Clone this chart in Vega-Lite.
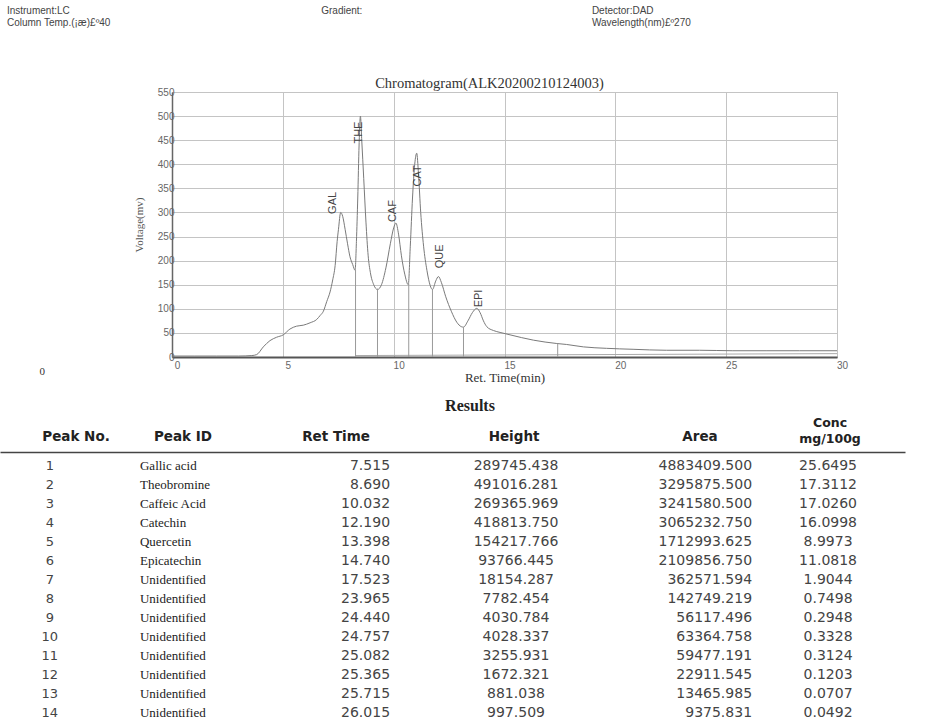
{
  "$schema": "https://vega.github.io/schema/vega-lite/v6.json",
  "width": 665,
  "height": 265,
  "autosize": {"type": "none"},
  "padding": {"left": 172, "top": 92, "right": 106, "bottom": 363},
  "background": "white",
  "config": {"view": {"stroke": "#888", "strokeWidth": 1}, "font": "Liberation Sans"},
  "datasets": {
    "curve": [
      {"t": 0, "v": 2}, {"t": 1, "v": 2}, {"t": 2, "v": 2}, {"t": 3, "v": 2}, {"t": 3.6, "v": 3},
      {"t": 3.82, "v": 5}, {"t": 4.12, "v": 21}, {"t": 4.42, "v": 34}, {"t": 4.72, "v": 41},
      {"t": 5.02, "v": 46}, {"t": 5.32, "v": 58}, {"t": 5.62, "v": 64}, {"t": 5.92, "v": 66},
      {"t": 6.23, "v": 71}, {"t": 6.53, "v": 78}, {"t": 6.68, "v": 86}, {"t": 6.83, "v": 95},
      {"t": 6.98, "v": 115}, {"t": 7.13, "v": 135}, {"t": 7.25, "v": 160}, {"t": 7.36, "v": 190},
      {"t": 7.45, "v": 240}, {"t": 7.51, "v": 265}, {"t": 7.61, "v": 300}, {"t": 7.7, "v": 292},
      {"t": 7.81, "v": 265}, {"t": 7.92, "v": 235}, {"t": 8.03, "v": 208}, {"t": 8.15, "v": 192},
      {"t": 8.26, "v": 180}, {"t": 8.32, "v": 240}, {"t": 8.38, "v": 330}, {"t": 8.44, "v": 440},
      {"t": 8.5, "v": 500}, {"t": 8.56, "v": 450}, {"t": 8.65, "v": 370}, {"t": 8.75, "v": 280},
      {"t": 8.85, "v": 210}, {"t": 8.95, "v": 175}, {"t": 9.1, "v": 150}, {"t": 9.27, "v": 140},
      {"t": 9.45, "v": 150}, {"t": 9.65, "v": 185}, {"t": 9.85, "v": 235}, {"t": 10.0, "v": 268},
      {"t": 10.1, "v": 278}, {"t": 10.22, "v": 255}, {"t": 10.35, "v": 210}, {"t": 10.5, "v": 172},
      {"t": 10.66, "v": 150}, {"t": 10.75, "v": 230}, {"t": 10.85, "v": 330}, {"t": 10.95, "v": 400},
      {"t": 11.04, "v": 423}, {"t": 11.12, "v": 380}, {"t": 11.22, "v": 300}, {"t": 11.35, "v": 230},
      {"t": 11.5, "v": 180}, {"t": 11.65, "v": 148}, {"t": 11.75, "v": 140}, {"t": 11.9, "v": 158},
      {"t": 12.02, "v": 167}, {"t": 12.15, "v": 155}, {"t": 12.35, "v": 125}, {"t": 12.6, "v": 95},
      {"t": 12.85, "v": 72}, {"t": 13.05, "v": 63}, {"t": 13.15, "v": 62}, {"t": 13.35, "v": 75},
      {"t": 13.55, "v": 92}, {"t": 13.75, "v": 101}, {"t": 13.9, "v": 92}, {"t": 14.05, "v": 75},
      {"t": 14.2, "v": 63}, {"t": 14.5, "v": 55}, {"t": 14.8, "v": 51}, {"t": 15.25, "v": 46},
      {"t": 16.3, "v": 35}, {"t": 17.36, "v": 28}, {"t": 17.8, "v": 26}, {"t": 18.56, "v": 21},
      {"t": 19.6, "v": 18}, {"t": 20.8, "v": 16}, {"t": 22.3, "v": 14}, {"t": 23.8, "v": 14},
      {"t": 25.3, "v": 13}, {"t": 26.8, "v": 13}, {"t": 28.3, "v": 13}, {"t": 30, "v": 13}
    ],
    "baseline": [{"t": 8.28, "v": 3}, {"t": 30, "v": 7}],
    "drops": [
      {"t": 8.28, "v": 181}, {"t": 9.27, "v": 142}, {"t": 10.68, "v": 152},
      {"t": 11.75, "v": 140}, {"t": 13.15, "v": 62}, {"t": 17.4, "v": 28}
    ],
    "peaks": [
      {"t": 7.27, "v": 297, "label": "GAL"}, {"t": 8.44, "v": 443, "label": "THE"},
      {"t": 9.95, "v": 280, "label": "CAF"}, {"t": 11.1, "v": 354, "label": "CAT"},
      {"t": 12.1, "v": 184, "label": "QUE"}, {"t": 13.85, "v": 103, "label": "EPI"}
    ],
    "stray": [{"t": -5.85, "v": -31, "label": "0"}],
    "meta": [
      {"col": "left", "line": "1", "text": "Instrument:LC"},
      {"col": "left", "line": "2", "text": "Column Temp.(¡æ)£º40"},
      {"col": "mid", "line": "1", "text": "Gradient:"},
      {"col": "right", "line": "1", "text": "Detector:DAD"},
      {"col": "right", "line": "2", "text": "Wavelength(nm)£º270"}
    ],
    "results": [
      {"no": 1, "id": "Gallic acid", "ret": 7.515, "height": 289745.438, "area": 4883409.5, "conc": 25.6495},
      {"no": 2, "id": "Theobromine", "ret": 8.69, "height": 491016.281, "area": 3295875.5, "conc": 17.3112},
      {"no": 3, "id": "Caffeic Acid", "ret": 10.032, "height": 269365.969, "area": 3241580.5, "conc": 17.026},
      {"no": 4, "id": "Catechin", "ret": 12.19, "height": 418813.75, "area": 3065232.75, "conc": 16.0998},
      {"no": 5, "id": "Quercetin", "ret": 13.398, "height": 154217.766, "area": 1712993.625, "conc": 8.9973},
      {"no": 6, "id": "Epicatechin", "ret": 14.74, "height": 93766.445, "area": 2109856.75, "conc": 11.0818},
      {"no": 7, "id": "Unidentified", "ret": 17.523, "height": 18154.287, "area": 362571.594, "conc": 1.9044},
      {"no": 8, "id": "Unidentified", "ret": 23.965, "height": 7782.454, "area": 142749.219, "conc": 0.7498},
      {"no": 9, "id": "Unidentified", "ret": 24.44, "height": 4030.784, "area": 56117.496, "conc": 0.2948},
      {"no": 10, "id": "Unidentified", "ret": 24.757, "height": 4028.337, "area": 63364.758, "conc": 0.3328},
      {"no": 11, "id": "Unidentified", "ret": 25.082, "height": 3255.931, "area": 59477.191, "conc": 0.3124},
      {"no": 12, "id": "Unidentified", "ret": 25.365, "height": 1672.321, "area": 22911.545, "conc": 0.1203},
      {"no": 13, "id": "Unidentified", "ret": 25.715, "height": 881.038, "area": 13465.985, "conc": 0.0707},
      {"no": 14, "id": "Unidentified", "ret": 26.015, "height": 997.509, "area": 9375.831, "conc": 0.0492}
    ],
    "heads": [
      {"col": "no", "label": "Peak No."},
      {"col": "id", "label": "Peak ID"},
      {"col": "ret", "label": "Ret Time"},
      {"col": "height", "label": "Height"},
      {"col": "area", "label": "Area"},
      {"col": "conc", "label": "Conc\nmg/100g"},
      {"col": "height", "label": "Results"}
    ]
  },
  "layer": [
    {
      "layer": [
        {
          "data": {"name": "curve"},
          "mark": {"type": "line", "color": "#7a7a7a", "strokeWidth": 1, "interpolate": "monotone"},
          "encoding": {
            "x": {"field": "t", "type": "quantitative", "scale": {"domain": [0, 30], "nice": false, "zero": false},
              "axis": {"orient": "bottom", "values": [0, 5, 10, 15, 20, 25, 30], "title": "Ret. Time(min)", "grid": true, "gridColor": "#c4c4c4", "gridWidth": 1,
                "domainColor": "#555", "domainWidth": 2, "ticks": false, "labelFont": "Liberation Sans", "labelFontSize": 10,
                "labelColor": "#666", "labelOffset": 5, "labelPadding": 3, "labelFlush": false, "labelOverlap": false,
                "titleFont": "Liberation Serif", "titleFontSize": 13, "titleFontWeight": "normal", "titleColor": "#333", "titlePadding": 1}},
            "y": {"field": "v", "type": "quantitative", "scale": {"domain": [0, 550], "nice": false},
              "axis": {"orient": "left", "values": [0, 50, 100, 150, 200, 250, 300, 350, 400, 450, 500, 550], "title": "Voltage(mv)", "grid": true,
                "gridColor": "#c4c4c4", "gridWidth": 1, "domainColor": "#666", "domainWidth": 1.5, "ticks": false,
                "labelFont": "Liberation Sans", "labelFontSize": 10, "labelColor": "#666", "labelPadding": -2, "labelFlush": false,
                "labelOverlap": false, "titleFont": "Liberation Serif", "titleFontSize": 11, "titleFontWeight": "normal",
                "titleColor": "#555", "titlePadding": 13}}
          }
        },
        {
          "data": {"name": "baseline"},
          "mark": {"type": "line", "color": "#aaa", "strokeWidth": 1},
          "encoding": {"x": {"field": "t", "type": "quantitative", "axis": null}, "y": {"field": "v", "type": "quantitative", "axis": null}}
        },
        {
          "data": {"name": "drops"},
          "mark": {"type": "rule", "color": "#999", "strokeWidth": 1},
          "encoding": {"x": {"field": "t", "type": "quantitative", "axis": null}, "y": {"field": "v", "type": "quantitative", "axis": null}, "y2": {"datum": 0}}
        },
        {
          "data": {"name": "peaks"},
          "mark": {"type": "text", "angle": 270, "align": "left", "baseline": "middle", "font": "Liberation Sans Narrow, Liberation Sans", "fontSize": 11, "color": "#444"},
          "encoding": {
            "x": {"field": "t", "type": "quantitative",
              "axis": {"orient": "top", "title": "Chromatogram(ALK20200210124003)", "labels": false, "ticks": false, "domain": false, "grid": false,
                "titleFont": "Liberation Serif", "titleFontSize": 14.5, "titleFontWeight": "normal", "titleColor": "#333", "titlePadding": 2, "titleX": 317}},
            "y": {"field": "v", "type": "quantitative", "axis": null},
            "text": {"field": "label"}
          }
        },
        {
          "data": {"name": "stray"},
          "mark": {"type": "text", "align": "center", "baseline": "middle", "font": "Liberation Serif", "fontSize": 11, "color": "#333"},
          "encoding": {"x": {"field": "t", "type": "quantitative", "axis": null}, "y": {"field": "v", "type": "quantitative", "axis": null}, "text": {"field": "label"}}
        }
      ],
      "resolve": {"axis": {"x": "independent", "y": "independent"}}
    },
    {
      "data": {"name": "meta"},
      "layer": [
        {
          "transform": [{"filter": "datum.col !== 'right'"}],
          "mark": {"type": "text", "align": "left", "baseline": "middle", "font": "Liberation Sans", "fontSize": 10, "color": "#444"},
          "encoding": {
            "x": {"field": "col", "type": "nominal", "bandPosition": 0.022, "scale": {"type": "band", "domain": ["left", "mid", "right"], "range": [-172, 771], "paddingInner": 0, "paddingOuter": 0}, "axis": null},
            "y": {"field": "line", "type": "nominal", "bandPosition": 0.5, "scale": {"type": "band", "domain": ["1", "2"], "range": [-87, -63], "paddingInner": 0, "paddingOuter": 0}, "axis": null},
            "text": {"field": "text"}
          }
        },
        {
          "transform": [{"filter": "datum.col === 'right'"}],
          "mark": {"type": "text", "align": "left", "baseline": "middle", "font": "Liberation Sans", "fontSize": 10, "color": "#444"},
          "encoding": {
            "x": {"field": "col", "type": "nominal", "bandPosition": -0.117, "axis": null},
            "y": {"field": "line", "type": "nominal", "bandPosition": 0.5, "axis": null},
            "text": {"field": "text"}
          }
        }
      ]
    },
    {
      "layer": [
        {
          "data": {"name": "results"},
          "layer": [
            {
              "mark": {"type": "text", "align": "center", "baseline": "middle", "font": "DejaVu Sans", "fontSize": 13, "color": "#444"},
              "encoding": {
                "x": {"datum": "no", "type": "nominal", "bandPosition": 0.33, "scale": {"type": "band", "domain": ["no", "id", "ret", "height", "area", "conc"], "range": [-172, 733], "paddingInner": 0, "paddingOuter": 0}, "axis": null},
                "y": {"field": "no", "type": "ordinal", "scale": {"type": "point", "domain": [1, 2, 3, 4, 5, 6, 7, 8, 9, 10, 11, 12, 13, 14], "range": [374, 621], "padding": 0}, "axis": null},
                "text": {"field": "no", "type": "quantitative"}
              }
            },
            {
              "mark": {"type": "text", "align": "left", "baseline": "middle", "font": "Liberation Serif", "fontSize": 13, "color": "#222"},
              "encoding": {
                "x": {"datum": "id", "type": "nominal", "bandPosition": -0.072, "axis": null},
                "y": {"field": "no", "type": "ordinal", "axis": null},
                "text": {"field": "id"}
              }
            },
            {
              "mark": {"type": "text", "align": "right", "baseline": "middle", "font": "DejaVu Sans", "fontSize": 14, "color": "#444"},
              "encoding": {
                "x": {"datum": "ret", "type": "nominal", "bandPosition": 0.586, "axis": null},
                "y": {"field": "no", "type": "ordinal", "axis": null},
                "text": {"field": "ret", "type": "quantitative", "format": ".3f"}
              }
            },
            {
              "mark": {"type": "text", "align": "center", "baseline": "middle", "font": "DejaVu Sans", "fontSize": 14, "color": "#444"},
              "encoding": {
                "x": {"datum": "height", "type": "nominal", "bandPosition": 0.421, "axis": null},
                "y": {"field": "no", "type": "ordinal", "axis": null},
                "text": {"field": "height", "type": "quantitative", "format": ".3f"}
              }
            },
            {
              "mark": {"type": "text", "align": "right", "baseline": "middle", "font": "DejaVu Sans", "fontSize": 14, "color": "#444"},
              "encoding": {
                "x": {"datum": "area", "type": "nominal", "bandPosition": 0.986, "axis": null},
                "y": {"field": "no", "type": "ordinal", "axis": null},
                "text": {"field": "area", "type": "quantitative", "format": ".3f"}
              }
            },
            {
              "mark": {"type": "text", "align": "center", "baseline": "middle", "font": "DejaVu Sans", "fontSize": 14, "color": "#444"},
              "encoding": {
                "x": {"datum": "conc", "type": "nominal", "bandPosition": 0.49, "axis": null},
                "y": {"field": "no", "type": "ordinal", "axis": null},
                "text": {"field": "conc", "type": "quantitative", "format": ".4f"}
              }
            }
          ],
          "resolve": {"axis": {"x": "independent"}}
        },
        {
          "data": {"name": "heads"},
          "layer": [
            {
              "transform": [{"filter": "datum.col === 'no'"}],
              "mark": {"type": "text", "align": "center", "baseline": "middle", "font": "DejaVu Sans", "fontWeight": "bold", "fontSize": 13.5, "color": "#222"},
              "encoding": {
                "x": {"field": "col", "type": "nominal", "bandPosition": 0.504, "scale": {"type": "band", "domain": ["no", "id", "ret", "height", "area", "conc"], "range": [-172, 733], "paddingInner": 0, "paddingOuter": 0},
                  "axis": {"orient": "bottom", "offset": 95, "labels": false, "ticks": false, "grid": false, "title": null, "domain": true, "domainColor": "#444", "domainWidth": 1.5}},
                "y": {"datum": "Header", "type": "nominal", "bandPosition": 0.5, "scale": {"type": "band", "domain": ["Results", "Header"], "range": [298, 360], "paddingInner": 0, "paddingOuter": 0}, "axis": null},
                "text": {"field": "label"}
              }
            },
            {
              "transform": [{"filter": "datum.col === 'id'"}],
              "mark": {"type": "text", "align": "center", "baseline": "middle", "font": "DejaVu Sans", "fontWeight": "bold", "fontSize": 13.5, "color": "#222"},
              "encoding": {
                "x": {"field": "col", "type": "nominal", "bandPosition": 0.213, "axis": null},
                "y": {"datum": "Header", "type": "nominal", "bandPosition": 0.5, "axis": null},
                "text": {"field": "label"}
              }
            },
            {
              "transform": [{"filter": "datum.col === 'ret'"}],
              "mark": {"type": "text", "align": "center", "baseline": "middle", "font": "DejaVu Sans", "fontWeight": "bold", "fontSize": 13.5, "color": "#222"},
              "encoding": {
                "x": {"field": "col", "type": "nominal", "bandPosition": 0.228, "axis": null},
                "y": {"datum": "Header", "type": "nominal", "bandPosition": 0.5, "axis": null},
                "text": {"field": "label"}
              }
            },
            {
              "transform": [{"filter": "datum.col === 'height' && datum.label !== 'Results'"}],
              "mark": {"type": "text", "align": "center", "baseline": "middle", "font": "DejaVu Sans", "fontWeight": "bold", "fontSize": 13.5, "color": "#222"},
              "encoding": {
                "x": {"field": "col", "type": "nominal", "bandPosition": 0.408, "axis": null},
                "y": {"datum": "Header", "type": "nominal", "bandPosition": 0.5, "axis": null},
                "text": {"field": "label"}
              }
            },
            {
              "transform": [{"filter": "datum.col === 'area'"}],
              "mark": {"type": "text", "align": "center", "baseline": "middle", "font": "DejaVu Sans", "fontWeight": "bold", "fontSize": 13.5, "color": "#222"},
              "encoding": {
                "x": {"field": "col", "type": "nominal", "bandPosition": 0.641, "axis": null},
                "y": {"datum": "Header", "type": "nominal", "bandPosition": 0.5, "axis": null},
                "text": {"field": "label"}
              }
            },
            {
              "transform": [{"filter": "datum.col === 'conc'"}],
              "mark": {"type": "text", "align": "center", "baseline": "middle", "font": "DejaVu Sans", "fontWeight": "bold", "fontSize": 12.5, "color": "#222", "lineBreak": "\n", "lineHeight": 16, "dy": -14},
              "encoding": {
                "x": {"field": "col", "type": "nominal", "bandPosition": 0.503, "axis": null},
                "y": {"datum": "Header", "type": "nominal", "bandPosition": 0.5, "axis": null},
                "text": {"field": "label"}
              }
            },
            {
              "transform": [{"filter": "datum.label === 'Results'"}],
              "mark": {"type": "text", "align": "center", "baseline": "middle", "font": "Liberation Serif", "fontWeight": "bold", "fontSize": 16, "color": "#222"},
              "encoding": {
                "x": {"field": "col", "type": "nominal", "bandPosition": 0.116, "axis": null},
                "y": {"datum": "Results", "type": "nominal", "bandPosition": 0.5, "axis": null},
                "text": {"field": "label"}
              }
            }
          ],
          "resolve": {"axis": {"x": "independent"}}
        }
      ],
      "resolve": {"scale": {"y": "independent"}, "axis": {"x": "independent"}}
    }
  ],
  "resolve": {"scale": {"x": "independent", "y": "independent"}}
}
